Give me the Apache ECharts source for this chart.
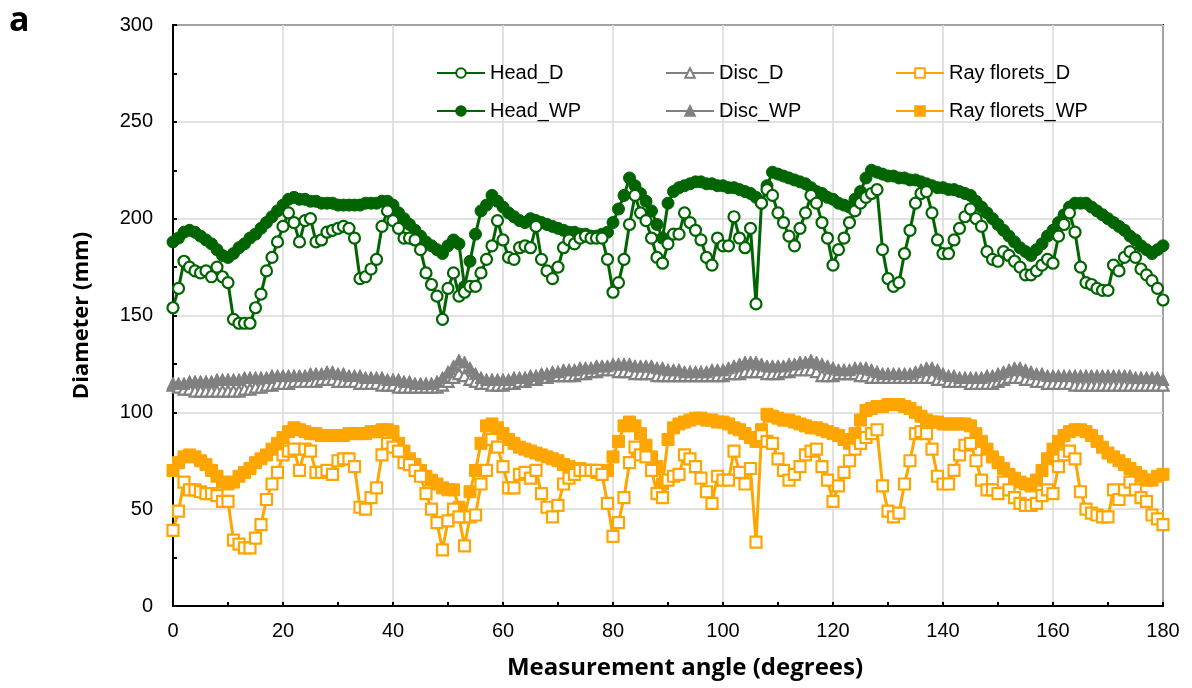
<!DOCTYPE html>
<html>
<head>
<meta charset="utf-8">
<script src="https://cdn.jsdelivr.net/npm/echarts@6.0.0/dist/echarts.min.js"></script>
<style>
  html, body { margin: 0; padding: 0; background: #fff; }
  #chart { width: 1192px; height: 688px; }
</style>
</head>
<body>
<div id="chart"></div>
<script>
// measurement angle, one reading per degree
const angles = [
  0, 1, 2, 3, 4, 5, 6, 7, 8, 9, 10, 11, 12, 13, 14, 15, 16, 17, 18, 19,
  20, 21, 22, 23, 24, 25, 26, 27, 28, 29, 30, 31, 32, 33, 34, 35, 36, 37, 38, 39,
  40, 41, 42, 43, 44, 45, 46, 47, 48, 49, 50, 51, 52, 53, 54, 55, 56, 57, 58, 59,
  60, 61, 62, 63, 64, 65, 66, 67, 68, 69, 70, 71, 72, 73, 74, 75, 76, 77, 78, 79,
  80, 81, 82, 83, 84, 85, 86, 87, 88, 89, 90, 91, 92, 93, 94, 95, 96, 97, 98, 99,
  100, 101, 102, 103, 104, 105, 106, 107, 108, 109, 110, 111, 112, 113, 114, 115, 116, 117, 118, 119,
  120, 121, 122, 123, 124, 125, 126, 127, 128, 129, 130, 131, 132, 133, 134, 135, 136, 137, 138, 139,
  140, 141, 142, 143, 144, 145, 146, 147, 148, 149, 150, 151, 152, 153, 154, 155, 156, 157, 158, 159,
  160, 161, 162, 163, 164, 165, 166, 167, 168, 169, 170, 171, 172, 173, 174, 175, 176, 177, 178, 179,
  180,
]

const headD = [
  154, 164, 178, 175, 173, 172, 173, 170, 175, 170,
  167, 148, 146, 146, 146, 154, 161, 173, 180, 188,
  196, 203, 198, 188, 199, 200, 188, 189, 193, 194,
  195, 196, 195, 190, 169, 170, 174, 179, 196, 204,
  199, 195, 190, 190, 189, 184, 172, 166, 160, 148,
  164, 172, 160, 162, 165, 165, 172, 179, 186, 199,
  189, 180, 179, 185, 186, 185, 196, 179, 173, 169,
  175, 185, 189, 187, 190, 191, 190, 190, 190, 179,
  162, 167, 179, 197, 212, 203, 199, 190, 180, 177,
  187, 192, 192, 203, 198, 194, 189, 180, 176, 190,
  186, 186, 201, 190, 185, 195, 156, 208, 215, 212,
  203, 198, 191, 186, 195, 203, 212, 208, 198, 190,
  176, 184, 190, 198, 204, 208, 211, 213, 215, 184,
  169, 165, 167, 182, 194, 208, 213, 214, 203, 189,
  182, 182, 189, 195, 201, 205, 200, 196, 183, 179,
  178, 183, 181, 178, 175, 171, 171, 173, 176, 179,
  177, 191, 197, 203, 193, 175, 167, 166, 164, 163,
  163, 176, 173, 180, 183, 180, 174, 171, 168, 164,
  158,
]

const headWP = [
  188, 190, 193, 194, 193, 191, 189, 187, 184, 181,
  180, 182, 185, 187, 190, 192, 195, 198, 201, 204,
  207, 210, 211, 210, 210, 209, 209, 208, 208, 208,
  207, 207, 207, 207, 207, 208, 208, 208, 209, 209,
  207, 203, 200, 197, 194, 191, 188, 186, 184, 182,
  186, 189, 187, 165, 178, 192, 204, 207, 212, 209,
  206, 203, 201, 199, 198, 200, 199, 198, 197, 196,
  195, 194, 193, 193, 192, 192, 191, 191, 192, 193,
  198, 205, 212, 221, 217, 213, 209, 204, 197, 190,
  208, 214, 216, 217, 218, 219, 219, 218, 218, 217,
  217, 216, 216, 215, 214, 213, 211, 208, 217, 224,
  223, 222, 221, 220, 219, 218, 216, 214, 213, 211,
  210, 208, 207, 206, 210, 214, 221, 225, 224, 223,
  222, 222, 221, 221, 220, 220, 219, 218, 217, 216,
  216, 215, 215, 214, 213, 212, 209, 206, 203, 200,
  197, 194, 191, 188, 185, 183, 181, 184, 187, 191,
  194, 198, 202, 206, 208, 208, 208, 206, 204, 202,
  200, 198, 196, 194, 191, 189, 186, 184, 182, 184,
  186,
]

const discD = [
  114, 113, 112, 112, 111, 111, 111, 111, 111, 111,
  111, 111, 111, 112, 112, 113, 113, 114, 114, 115,
  115, 115, 116, 116, 116, 116, 116, 117, 117, 117,
  116, 116, 116, 116, 115, 115, 115, 115, 114, 114,
  114, 113, 113, 113, 113, 113, 113, 113, 113, 114,
  116, 118, 120, 119, 117, 116, 115, 115, 114, 114,
  114, 115, 115, 116, 116, 117, 117, 118, 118, 119,
  119, 119, 119, 119, 120, 120, 121, 121, 122, 122,
  122, 121, 121, 121, 120, 120, 120, 120, 119, 119,
  119, 119, 119, 119, 119, 119, 119, 119, 119, 119,
  119, 120, 120, 120, 121, 121, 121, 121, 120, 120,
  120, 121, 121, 122, 122, 122, 122, 121, 119, 119,
  119, 120, 120, 120, 120, 119, 119, 118, 118, 118,
  118, 118, 118, 118, 118, 118, 118, 118, 118, 117,
  117, 116, 116, 116, 116, 115, 115, 115, 115, 115,
  116, 117, 118, 118, 118, 117, 117, 116, 116, 115,
  115, 115, 115, 115, 114, 114, 114, 114, 114, 114,
  114, 114, 114, 114, 114, 114, 114, 114, 114, 114,
  114,
]

const discWP = [
  115, 115, 115, 116, 116, 116, 116, 116, 117, 117,
  117, 117, 117, 118, 118, 118, 118, 118, 119, 119,
  119, 119, 119, 119, 119, 120, 120, 120, 121, 121,
  120, 120, 119, 119, 119, 118, 118, 118, 118, 117,
  117, 117, 116, 116, 115, 115, 115, 115, 116, 118,
  121, 124, 127, 126, 123, 120, 118, 117, 117, 117,
  117, 117, 118, 118, 118, 119, 119, 120, 120, 121,
  121, 122, 122, 122, 123, 123, 123, 124, 124, 124,
  125, 125, 125, 125, 124, 124, 124, 124, 123, 123,
  122, 122, 122, 121, 121, 121, 121, 121, 122, 122,
  122, 123, 124, 125, 126, 126, 126, 125, 124, 124,
  124, 124, 125, 125, 126, 126, 127, 126, 125, 124,
  123, 122, 122, 122, 123, 123, 123, 122, 121, 120,
  120, 120, 120, 120, 120, 121, 122, 123, 123, 122,
  120, 119, 119, 118, 118, 118, 118, 118, 119, 119,
  120, 121, 122, 123, 123, 122, 121, 120, 120, 119,
  119, 119, 119, 119, 119, 119, 119, 119, 119, 119,
  119, 119, 119, 119, 119, 118, 118, 118, 118, 118,
  117,
]

const rayD = [
  39, 49, 64, 60, 60, 59, 58, 58, 57, 54,
  54, 34, 32, 30, 30, 35, 42, 55, 63, 69,
  78, 80, 81, 70, 81, 80, 69, 69, 70, 68,
  75, 76, 76, 72, 51, 50, 56, 61, 78, 84,
  82, 80, 74, 73, 70, 67, 58, 50, 43, 29,
  44, 50, 46, 31, 46, 47, 63, 70, 86, 82,
  72, 61, 61, 68, 69, 66, 70, 58, 51, 46,
  52, 63, 66, 68, 70, 70, 70, 70, 68, 53,
  36, 43, 56, 74, 82, 78, 77, 70, 58, 56,
  65, 67, 68, 78, 76, 72, 66, 59, 53, 67,
  65, 65, 80, 69, 63, 71, 33, 88, 85, 84,
  76, 70, 65, 68, 72, 78, 80, 81, 72, 65,
  54, 62, 69, 75, 81, 84, 87, 89, 91, 62,
  49, 46, 48, 63, 75, 89, 90, 89, 81, 67,
  63, 63, 70, 78, 83, 84, 75, 65, 60, 60,
  58, 64, 60, 56, 53, 52, 52, 53, 57, 60,
  58, 72, 78, 80, 76, 59, 50, 48, 47, 46,
  46, 60, 55, 60, 64, 60, 56, 54, 47, 45,
  42,
]

const rayWP = [
  70, 74, 77, 78, 77, 75, 73, 70, 67, 64,
  63, 64, 67, 69, 71, 74, 76, 78, 81, 84,
  87, 90, 92, 91, 90, 89, 89, 88, 88, 88,
  88, 88, 89, 89, 89, 89, 90, 90, 91, 91,
  90, 84, 80, 76, 73, 70, 67, 65, 63, 61,
  60, 60, 51, 46, 59, 70, 84, 93, 94, 92,
  89, 86, 84, 82, 81, 80, 79, 78, 77, 76,
  75, 73, 72, 71, 71, 70, 70, 69, 68, 70,
  77, 85, 93, 95, 93, 89, 83, 77, 72, 63,
  86, 92, 94, 95, 96, 97, 97, 96, 96, 95,
  95, 94, 92, 91, 89, 87, 85, 91, 99, 98,
  97, 96, 96, 95, 94, 93, 92, 92, 91, 90,
  89, 88, 86, 84, 89, 96, 101, 102, 103, 103,
  104, 104, 104, 103, 102, 100, 98, 96, 95, 95,
  94, 94, 94, 94, 94, 93, 89, 85, 81, 77,
  74, 71, 68, 66, 64, 63, 62, 65, 70, 76,
  81, 85, 88, 90, 91, 91, 90, 88, 85, 82,
  79, 77, 75, 73, 71, 69, 67, 65, 65, 67,
  68,
]

const GREEN = '#006400'
const GRAY = '#808080'
const ORANGE = '#FFA500'
const FONT = 'Liberation Sans, Arial, sans-serif'
const TITLE_FONT = '"Open Sans", sans-serif'

function pairs(values) {
  return angles.map((a, i) => [a, values[i]])
}

function makeSeries(name, values, color, symbol, hollow, size) {
  return {
    name,
    type: 'line',
    data: pairs(values),
    symbol,
    symbolSize: size,
    showAllSymbol: true,
    lineStyle: { color, width: 3 },
    itemStyle: hollow
      ? { color: '#fff', borderColor: color, borderWidth: 2.2 }
      : { color, borderColor: color, borderWidth: 1 },
    emphasis: { disabled: true },
  }
}

function legendAt(name, left, top) {
  return {
    data: [name],
    left,
    top,
    itemWidth: 48,
    itemHeight: 12,
    itemGap: 0,
    selectedMode: false,
    textStyle: { fontSize: 20, color: '#000', fontFamily: FONT },
  }
}

const chart = echarts.init(document.getElementById('chart'), null, { renderer: 'canvas' })

const option = {
  animation: false,
  backgroundColor: '#fff',
  graphic: [{
    type: 'text',
    left: 9,
    top: 4,
    style: { text: 'a', font: 'bold 34px "Open Sans", sans-serif', fill: '#000' },
  }],
  legend: [
    legendAt('Head_D', 431, 58),
    legendAt('Disc_D', 660, 58),
    legendAt('Ray florets_D', 890, 58),
    legendAt('Head_WP', 431, 96),
    legendAt('Disc_WP', 660, 96),
    legendAt('Ray florets_WP', 890, 96),
  ],
  grid: {
    left: 173,
    right: 29,
    top: 25,
    bottom: 82,
    show: true,
    borderColor: '#000',
    borderWidth: 2,
  },
  xAxis: {
    type: 'value',
    min: 0,
    max: 180,
    interval: 20,
    name: 'Measurement angle (degrees)',
    nameLocation: 'middle',
    nameGap: 50,
    nameTextStyle: {
      fontSize: 24, fontWeight: 'bold', color: '#000', fontFamily: TITLE_FONT,
      padding: [0, 0, 0, 34],
    },
    axisLine: { lineStyle: { color: '#000', width: 2 } },
    axisTick: { inside: true, length: 4, lineStyle: { color: '#000', width: 2 } },
    minorTick: { show: true, splitNumber: 2, length: 4, lineStyle: { color: '#000', width: 2 } },
    axisLabel: { fontSize: 20, color: '#000', margin: 15, fontFamily: FONT },
    splitLine: { show: true, lineStyle: { color: '#d9d9d9', width: 1.5 } },
  },
  yAxis: {
    type: 'value',
    min: 0,
    max: 300,
    interval: 50,
    name: 'Diameter (mm)',
    nameLocation: 'middle',
    nameGap: 80,
    nameTextStyle: { fontSize: 22, fontWeight: 'bold', color: '#000', fontFamily: TITLE_FONT },
    axisLine: { show: true, lineStyle: { color: '#000', width: 2 } },
    axisTick: { show: true, inside: true, length: 4, lineStyle: { color: '#000', width: 2 } },
    minorTick: { show: true, splitNumber: 2, length: 4, lineStyle: { color: '#000', width: 2 } },
    axisLabel: { fontSize: 20, color: '#000', margin: 20, fontFamily: FONT },
    splitLine: { show: true, lineStyle: { color: '#d9d9d9', width: 1.5 } },
  },
  series: [
    makeSeries('Head_WP', headWP, GREEN, 'circle', false, 12),
    makeSeries('Disc_D', discD, GRAY, 'triangle', true, 11),
    makeSeries('Disc_WP', discWP, GRAY, 'triangle', false, 12),
    makeSeries('Ray florets_WP', rayWP, ORANGE, 'rect', false, 12),
    makeSeries('Head_D', headD, GREEN, 'circle', true, 11),
    makeSeries('Ray florets_D', rayD, ORANGE, 'rect', true, 11),
  ],
}

chart.setOption(option)
</script>
</body>
</html>
